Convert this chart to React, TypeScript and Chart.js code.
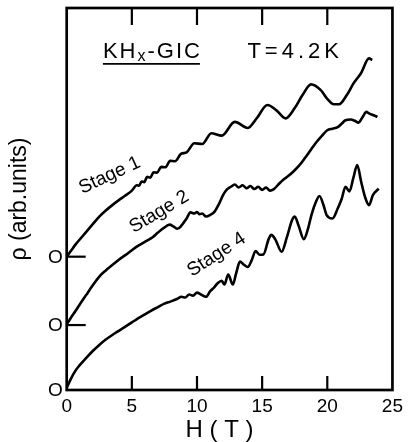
import React, { useEffect, useRef } from 'react';
import { Chart, registerables } from 'chart.js';

Chart.register(...registerables);

// Stage 1 (trace offset so that its zero sits at the upper "O")
const stage1H = [0, 0.3, 0.7, 1.0, 1.5, 2.0, 2.5, 3.0, 3.5, 4.0, 4.5, 5.0, 5.38, 5.56, 5.75, 5.95, 6.17, 6.41, 6.67, 6.94, 7.25, 7.58, 7.94, 8.33, 8.77, 9.2, 9.8, 10.4, 11.1, 11.9, 12.9, 13.9, 14.6, 15.4, 16.1, 16.8, 17.5, 18.1, 18.75, 19.5, 20.0, 20.5, 20.9, 21.5, 22.0, 22.6, 23.2, 23.45];
const stage1Rho = [3.49, 3.63, 3.82, 3.94, 4.14, 4.34, 4.54, 4.70, 4.84, 4.97, 5.09, 5.22, 5.36, 5.35, 5.46, 5.44, 5.58, 5.56, 5.70, 5.69, 5.84, 5.83, 6.00, 5.99, 6.18, 6.22, 6.46, 6.44, 6.72, 6.66, 7.02, 6.86, 7.12, 7.46, 7.32, 7.11, 7.38, 7.72, 8.00, 7.85, 7.62, 7.48, 7.48, 7.72, 8.02, 8.30, 8.68, 8.64];

// Stage 2 (zero at middle "O")
const stage2H = [0, 0.3, 0.7, 1.0, 1.5, 2.0, 2.5, 3.0, 3.5, 4.0, 4.5, 5.0, 5.5, 6.0, 6.6, 7.0, 7.4, 7.9, 8.2, 8.5, 8.8, 9.2, 9.5, 9.8, 10.0, 10.2, 10.4, 10.7, 11.0, 11.35, 11.7, 12.0, 12.3, 12.6, 12.9, 13.2, 13.5, 13.8, 14.1, 14.4, 14.7, 15.0, 15.3, 15.6, 15.9, 16.3, 16.6, 17.0, 17.4, 17.9, 18.3, 18.7, 19.1, 19.6, 20.0, 20.4, 20.8, 21.1, 21.4, 21.8, 22.1, 22.4, 22.7, 23.0, 23.2, 23.5, 23.85];
const stage2Rho = [1.72, 1.88, 2.08, 2.24, 2.49, 2.74, 2.97, 3.13, 3.27, 3.41, 3.53, 3.66, 3.78, 3.88, 4.00, 4.12, 4.23, 4.33, 4.28, 4.22, 4.30, 4.49, 4.65, 4.62, 4.66, 4.60, 4.62, 4.54, 4.58, 4.67, 4.88, 5.10, 5.25, 5.32, 5.38, 5.30, 5.36, 5.28, 5.34, 5.26, 5.32, 5.24, 5.30, 5.22, 5.26, 5.40, 5.50, 5.60, 5.72, 5.90, 6.08, 6.27, 6.46, 6.66, 6.80, 6.84, 6.88, 6.97, 7.06, 7.08, 7.05, 7.00, 7.14, 7.28, 7.24, 7.20, 7.15];

// Stage 4 (zero at bottom "O")
const stage4H = [0, 0.3, 0.7, 1.0, 1.5, 2.0, 2.5, 3.0, 3.5, 4.0, 4.5, 5.0, 5.5, 6.0, 6.5, 7.0, 7.5, 8.0, 8.5, 8.8, 9.1, 9.4, 9.7, 10.0, 10.3, 10.7, 11.0, 11.3, 11.6, 11.9, 12.1, 12.4, 12.75, 13.0, 13.3, 13.6, 13.9, 14.2, 14.5, 14.8, 15.1, 15.5, 15.7, 16.0, 16.5, 16.9, 17.3, 17.5, 17.8, 18.2, 18.5, 18.8, 19.1, 19.4, 19.7, 19.95, 20.4, 20.8, 21.1, 21.4, 21.7, 22.0, 22.3, 22.6, 22.9, 23.2, 23.5, 23.95];
const stage4Rho = [0.05, 0.28, 0.52, 0.65, 0.84, 1.02, 1.18, 1.32, 1.44, 1.55, 1.66, 1.77, 1.88, 1.98, 2.08, 2.17, 2.26, 2.32, 2.39, 2.44, 2.42, 2.50, 2.47, 2.55, 2.50, 2.44, 2.58, 2.68, 2.80, 2.86, 2.76, 3.02, 2.76, 3.05, 3.36, 3.28, 3.22, 3.40, 3.64, 3.54, 3.55, 3.95, 4.06, 3.95, 3.62, 4.00, 4.45, 4.54, 4.30, 3.95, 4.20, 4.60, 4.90, 5.08, 4.85, 4.58, 4.49, 4.75, 5.00, 5.32, 5.20, 5.55, 5.89, 5.45, 5.05, 4.84, 5.10, 5.27];

const zeroLevels = [0, 1.7, 3.49];
const zeroLabels = ['O', 'O', 'O'];
const xTickValues = [0, 5, 10, 15, 20, 25];
const innerTickValues = [5, 10, 15, 20];

const stageLabels = ['Stage 1', 'Stage 2', 'Stage 4'];
const stageLabelH = [3.3, 7.1, 11.5];
const stageLabelRho = [5.62, 4.66, 3.54];
const stageLabelAngle = [25, 31, 33];

const titleText = 'KH';
const titleSub = 'x';
const titleRest = '-GIC';
const tempText = 'T=4.2K';

const FONT = '"Liberation Sans", "DejaVu Sans", sans-serif';
const NARROW = '"Liberation Sans Narrow", "Liberation Sans", sans-serif';

const decorPlugin = {
  id: 'decor',
  afterDraw(chart: any) {
    const { ctx, chartArea: a, scales } = chart;
    const x = scales.x;
    const y = scales.y;
    ctx.save();
    ctx.strokeStyle = '#000';
    ctx.fillStyle = '#000';
    ctx.lineWidth = 2.7;
    ctx.strokeRect(a.left, a.top, a.right - a.left, a.bottom - a.top);
    ctx.lineWidth = 2.2;
    innerTickValues.forEach((t) => {
      const px = x.getPixelForValue(t);
      ctx.beginPath();
      ctx.moveTo(px, a.bottom);
      ctx.lineTo(px, a.bottom - 14);
      ctx.stroke();
      ctx.beginPath();
      ctx.moveTo(px, a.top);
      ctx.lineTo(px, a.top + 17);
      ctx.stroke();
    });
    zeroLevels.slice(1).forEach((v) => {
      const py = y.getPixelForValue(v);
      ctx.beginPath();
      ctx.moveTo(a.left, py);
      ctx.lineTo(a.left + 19, py);
      ctx.stroke();
    });

    // "O" zero markers on the left axis
    ctx.font = `19px ${FONT}`;
    ctx.textAlign = 'right';
    ctx.textBaseline = 'middle';
    zeroLevels.forEach((v, i) => {
      ctx.fillText(zeroLabels[i], a.left - 4, y.getPixelForValue(v) + 1);
    });

    // Header texts
    (ctx as any).letterSpacing = '2px';
    ctx.textBaseline = 'alphabetic';
    ctx.textAlign = 'left';
    const hx = x.getPixelForValue(2.78);
    const hy = y.getPixelForValue(8.68);
    ctx.font = `22px ${NARROW}`;
    ctx.fillText(titleText, hx, hy);
    let w = ctx.measureText(titleText).width;
    ctx.font = `16px ${NARROW}`;
    ctx.fillText(titleSub, hx + w, hy + 3);
    w += ctx.measureText(titleSub).width;
    ctx.font = `22px ${NARROW}`;
    ctx.fillText(titleRest, hx + w, hy);
    w += ctx.measureText(titleRest).width - 2;
    ctx.lineWidth = 1.8;
    ctx.beginPath();
    ctx.moveTo(hx, hy + 5.5);
    ctx.lineTo(hx + w, hy + 5.5);
    ctx.stroke();

    ctx.font = `22px ${NARROW}`;
    (ctx as any).letterSpacing = '4px';
    ctx.fillText(tempText, x.getPixelForValue(13.87), hy);

    // Stage labels
    (ctx as any).letterSpacing = '0px';
    ctx.font = `19px ${NARROW}`;
    ctx.textAlign = 'center';
    ctx.textBaseline = 'middle';
    stageLabels.forEach((s, i) => {
      ctx.save();
      ctx.translate(x.getPixelForValue(stageLabelH[i]), y.getPixelForValue(stageLabelRho[i]));
      ctx.rotate((-stageLabelAngle[i] * Math.PI) / 180);
      ctx.fillText(s, 0, 0);
      ctx.restore();
    });
    ctx.restore();
  },
};

export default function App() {
  const ref = useRef<HTMLCanvasElement | null>(null);
  useEffect(() => {
    if (!ref.current) return;
    const mk = (hs: number[], rs: number[]) => hs.map((h, i) => ({ x: h, y: rs[i] }));
    const ds = (data: any) => ({
      data,
      borderColor: '#000',
      borderWidth: 2.6,
      pointRadius: 0,
      fill: false,
      cubicInterpolationMode: 'monotone' as const,
    });
    const chart = new Chart(ref.current, {
      type: 'line',
      data: {
        datasets: [
          ds(mk(stage1H, stage1Rho)),
          ds(mk(stage2H, stage2Rho)),
          ds(mk(stage4H, stage4Rho)),
        ],
      },
      options: {
        animation: false,
        responsive: false,
        devicePixelRatio: 1,
        events: [],
        layout: { padding: { top: 8, right: 15, left: 0, bottom: 0 } },
        plugins: { legend: { display: false }, tooltip: { enabled: false } },
        scales: {
          x: {
            type: 'linear',
            min: 0,
            max: 25,
            afterBuildTicks: (s: any) => {
              s.ticks = xTickValues.map((v) => ({ value: v }));
            },
            afterFit: (s: any) => {
              s.height = 52;
            },
            grid: { display: false, drawTicks: false },
            border: { display: false },
            ticks: {
              color: '#000',
              font: { family: FONT, size: 19 },
              padding: 5,
              maxRotation: 0,
              callback: (v: any) => String(v),
            },
            title: {
              display: true,
              text: 'H ( T )   ',
              color: '#000',
              font: { family: FONT, size: 24, lineHeight: 1 },
              padding: { top: 0, bottom: 0 },
            },
          },
          y: {
            type: 'linear',
            min: 0,
            max: 10,
            afterFit: (s: any) => {
              s.width = 66.7;
            },
            grid: { display: false, drawTicks: false },
            border: { display: false },
            ticks: { display: false },
            title: {
              display: true,
              text: 'ρ (arb.units)',
              color: '#000',
              font: { family: FONT, size: 23, lineHeight: 1.2 },
              padding: { top: 6, bottom: 0 },
            },
          },
        },
      },
      plugins: [decorPlugin],
    });
    return () => chart.destroy();
  }, []);
  return (
    <div style={{ position: 'fixed', left: 0, top: 0, width: 408, height: 442, background: '#fff' }}>
      <canvas ref={ref} width={408} height={442} />
    </div>
  );
}
